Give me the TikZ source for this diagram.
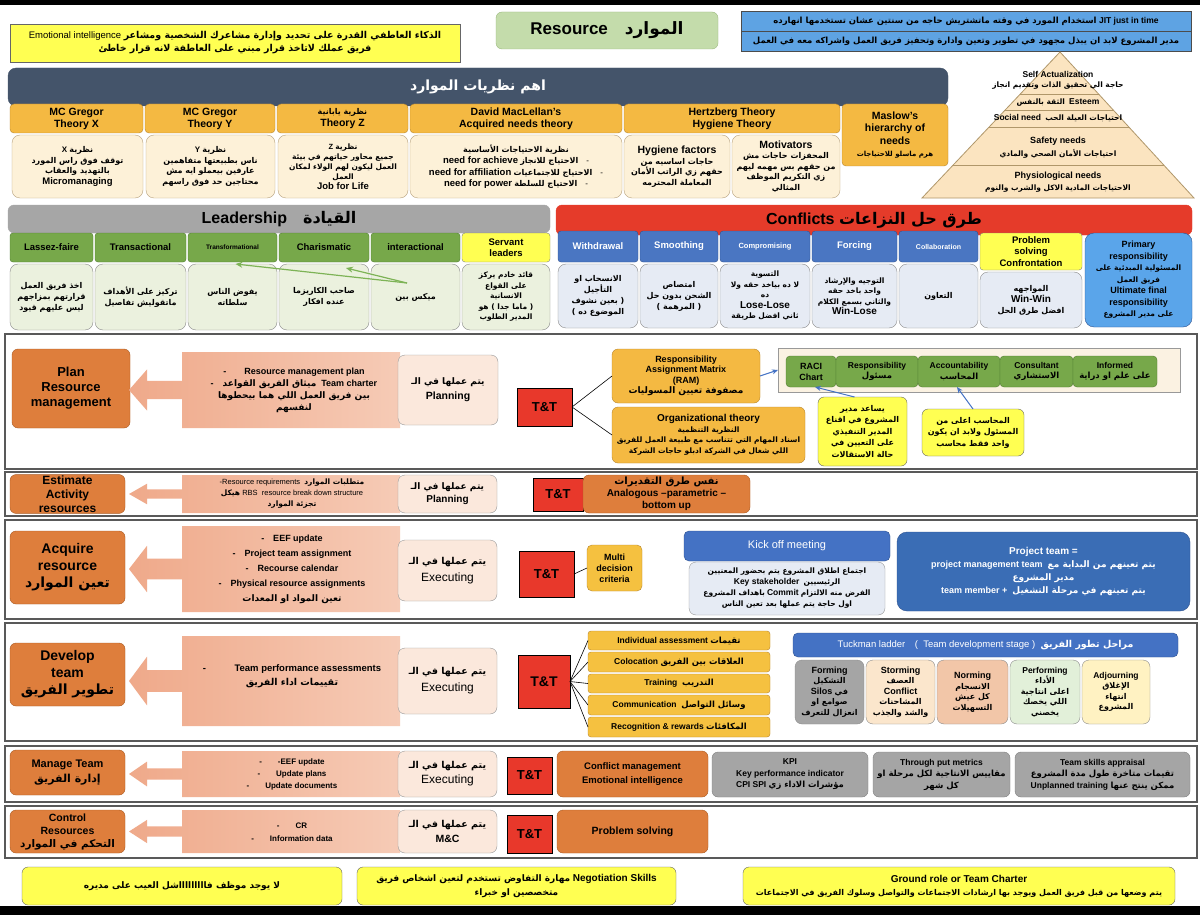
\documentclass[tikz,border=0pt]{standalone}
\usepackage{fontspec}
\setmainfont{Liberation Sans}
\newfontfamily\arabicfont[Script=Arabic]{DejaVu Sans}
\TeXXeTstate=1
\usetikzlibrary{calc,arrows.meta}
\newcommand\fs[2]{\fontsize{#1}{#2}\selectfont}
\newcommand\AR[1]{{\arabicfont\bfseries\beginR #1\endR}}
\newcommand\RL[1]{{\beginR #1\endR}}
\newcommand\A[1]{{\arabicfont\bfseries #1}}
\newcommand\EN[1]{{\beginL #1\endL}}
\definecolor{yel}{HTML}{FFFF52}
\definecolor{jit}{HTML}{5EA3E3}
\definecolor{resg}{HTML}{C4DCAB}
\definecolor{resgd}{HTML}{9CB97F}
\definecolor{slate}{HTML}{44546A}
\definecolor{gold}{HTML}{F4B942}
\definecolor{goldd}{HTML}{B8862E}
\definecolor{crm}{HTML}{FDF1D8}
\definecolor{crmd}{HTML}{B8A27E}
\definecolor{pyr}{HTML}{FBE4C0}
\definecolor{pyrd}{HTML}{B0976A}
\definecolor{lgray}{HTML}{A6A6A6}
\definecolor{grh}{HTML}{77A84A}
\definecolor{grhd}{HTML}{4F7A30}
\definecolor{grc}{HTML}{EBF1DE}
\definecolor{redh}{HTML}{E53B2A}
\definecolor{cb}{HTML}{4A76C2}
\definecolor{cbd}{HTML}{2F528F}
\definecolor{cbl}{HTML}{E6EBF4}
\definecolor{prim}{HTML}{5AA5EA}
\definecolor{org}{HTML}{DE7E3C}
\definecolor{orgd}{HTML}{A95A22}
\definecolor{peachd}{HTML}{EFA98A}
\definecolor{peachl}{HTML}{F6CBB6}
\definecolor{exe}{HTML}{FBE8DC}
\definecolor{ttred}{HTML}{E8382B}
\definecolor{multi}{HTML}{F5C140}
\definecolor{kick}{HTML}{4472C4}
\definecolor{ptb}{HTML}{3A6DB5}
\definecolor{gy}{HTML}{A5A5A5}
\definecolor{storm}{HTML}{FBE6CC}
\definecolor{norm}{HTML}{F2C6A8}
\definecolor{perf}{HTML}{E2F0D9}
\definecolor{adj}{HTML}{FFF2C2}
\definecolor{racib}{HTML}{FBF2E2}
\definecolor{arrb}{HTML}{4472C4}
\definecolor{arrg}{HTML}{7DB356}
\newcommand\bx[7]{\node[#1,minimum width={(#5-#3)*1pt},minimum height={(#6-#4)*1pt}] (#2) at ({(#3+#5)/2},{(#4+#6)/2}) {#7};}
\newcommand\callout[2]{%
 \pgfmathsetmacro\clm{(#1+#2)/2}\pgfmathsetmacro\clh{#2-#1}%
 \shade[left color=peachd,right color=peachl] (182,#1) -- (400,#1) -- (400,#2) -- (182,#2) -- (182,{\clm+0.12*\clh}) -- (147,{\clm+0.12*\clh}) -- (147,{\clm+0.27*\clh}) -- (129,\clm) -- (147,{\clm-0.27*\clh}) -- (147,{\clm-0.12*\clh}) -- (182,{\clm-0.12*\clh}) -- cycle;}
\tikzset{
 b/.style={inner sep=1pt,outer sep=0pt,align=center,font=\fs{9}{11}},
 yelbox/.style={b,fill=yel,draw=black!60,line width=0.6pt},
 blu/.style={b,fill=jit,draw=black!70,line width=0.6pt,font=\bfseries\fs{8.5}{10}},
 resbox/.style={b,fill=resg,draw=resgd,rounded corners=6pt,font=\bfseries\fs{17}{20}},
 slatebox/.style={b,fill=slate,draw=slate,rounded corners=8pt,text=white,font=\fs{14}{16}},
 goldh/.style={b,fill=gold,draw=goldd,rounded corners=4pt,font=\bfseries\fs{10.5}{12}},
 crmbox/.style={b,fill=crm,draw=crmd,rounded corners=8pt,font=\fs{8}{10.5}},
 lgh/.style={b,fill=lgray,draw=lgray,rounded corners=6pt,font=\bfseries\fs{16}{18}},
 grhbox/.style={b,fill=grh,draw=grhd,rounded corners=3pt,font=\bfseries\fs{9.5}{11}},
 grcbox/.style={b,fill=grc,draw=black!45,rounded corners=8pt,font=\fs{8}{11}},
 redbox/.style={b,fill=redh,draw=redh,rounded corners=6pt,font=\bfseries\fs{16}{18}},
 cbh/.style={b,fill=cb,draw=cbd,rounded corners=3pt,text=white,font=\bfseries\fs{9.5}{11}},
 cbc/.style={b,fill=cbl,draw=black!45,rounded corners=8pt,font=\fs{8}{11}},
 secbox/.style={draw=black!65,line width=1.5pt},
 orgbox/.style={b,fill=org,draw=orgd,rounded corners=6pt,font=\bfseries\fs{13}{15}},
 exebox/.style={b,fill=exe,draw=black!40,rounded corners=7pt,font=\fs{9}{15}},
 ttbox/.style={b,fill=ttred,draw=black,line width=0.7pt,font=\bfseries\fs{13}{15}},
 ramb/.style={b,fill=gold,draw=goldd,rounded corners=6pt,font=\fs{9}{10.5}},
 rg/.style={b,fill=grh,draw=grhd,rounded corners=4pt,font=\fs{8.5}{10.5}},
 note/.style={b,fill=yel,draw=black!60,rounded corners=6pt,font=\fs{8}{11.5}},
 mlt/.style={b,fill=multi,draw=goldd,rounded corners=5pt,font=\bfseries\fs{9}{11}},
 khb/.style={b,fill=kick,draw=cbd,rounded corners=5pt,text=white,font=\fs{11}{13}},
 kbb/.style={b,fill=cbl,draw=black!40,rounded corners=7pt,font=\fs{7.5}{11}},
 ptbox/.style={b,fill=ptb,draw=cbd,rounded corners=10pt,text=white,font=\fs{9}{13}},
 glb/.style={b,fill=multi,draw=goldd,rounded corners=3pt,font=\fs{8.5}{10}},
 tk/.style={b,draw=black!45,rounded corners=7pt,font=\fs{8}{10.5}},
 gyb/.style={b,fill=gy,draw=black!50,rounded corners=6pt,font=\fs{8.5}{11.5}},
 cot/.style={b,font=\bfseries\fs{9}{12}},
 ln/.style={black,line width=0.6pt},
 barr/.style={arrb,line width=1pt,-{Stealth[length=6pt,width=5pt]}},
 garr/.style={arrg,line width=1.2pt,-{Stealth[length=7pt,width=6pt]}}
}
\begin{document}
\begin{tikzpicture}[x=1pt,y=-1pt]
\useasboundingbox (0,0) rectangle (1200,915);
\fill[white] (0,0) rectangle (1200,915);
\fill[black] (0,0) rectangle (1200,5);
\fill[black] (0,906) rectangle (1200,915);
% ---------- top
\bx{yelbox,font=\fs{9.5}{13}}{ei}{10}{24}{460}{62}{\RL{\A{الذكاء العاطفي القدرة على تحديد وإدارة مشاعرك الشخصية ومشاعر} \EN{Emotional intelligence}}\\\AR{فريق عملك لاتاخذ قرار مبني على العاطفة لانه قرار خاطئ}}
\bx{resbox}{res}{496}{12}{718}{49}{Resource\quad\AR{الموارد}}
\bx{blu}{jit}{741}{11}{1191}{31}{\RL{\EN{JIT just in time} \A{استخدام المورد في وقته ماتشتريش حاجه من سنتين عشان تستخدمها انهارده}}}
\bx{blu}{pm}{741}{31}{1191}{51}{\AR{مدير المشروع لابد ان يبذل مجهود في تطوير وتعين وادارة وتحفيز فريق العمل واشراكه معه في العمل}}
% ---------- theories
\bx{slatebox}{th}{8}{68}{948}{106}{\AR{اهم نظريات الموارد}}
\bx{goldh}{g1}{10}{104}{143}{133}{MC Gregor\\Theory X}
\bx{goldh}{g2}{145}{104}{275}{133}{MC Gregor\\Theory Y}
\bx{goldh}{g3}{277}{104}{408}{133}{{\mdseries\fs{8}{10}\AR{نظرية يابانية}}\\Theory Z}
\bx{goldh}{g4}{410}{104}{622}{133}{David MacLellan's\\Acquired needs theory}
\bx{goldh}{g5}{624}{104}{840}{133}{Hertzberg Theory\\Hygiene Theory}
\bx{goldh,font=\bfseries\fs{10.5}{12.5}}{g6}{842}{104}{948}{166}{Maslow's\\hierarchy of\\needs\\{\mdseries\fs{7}{9}\AR{هرم ماسلو للاحتياجات}}}
\bx{crmbox}{c1}{12}{135}{143}{198}{\RL{\A{نظرية} \EN{\textbf{X}}}\\\AR{توقف فوق راس المورد}\\\AR{بالتهديد والعقاب}\\\textbf{\fs{9.5}{10.5}Micromanaging}}
\bx{crmbox}{c2}{146}{135}{275}{198}{\RL{\A{نظرية} \EN{\textbf{Y}}}\\\AR{ناس بطبيعتها متفاهمين}\\\AR{عارفين بيعملو ايه مش}\\\AR{محتاجين حد فوق راسهم}}
\bx{crmbox,font=\fs{7.5}{10}}{c3}{278}{135}{408}{198}{\RL{\A{نظرية} \EN{\textbf{Z}}}\\\AR{جميع محاور حياتهم في بيئة}\\\AR{العمل ليكون لهم الولاء لمكان}\\\AR{العمل}\\\textbf{\fs{9.5}{10}Job for Life}}
\bx{crmbox,font=\fs{8}{11.5}}{c4}{410}{135}{622}{198}{\AR{نظرية الاحتياجات الأساسية}\\\RL{-\quad\A{الاحتياج للانجاز} \EN{\textbf{\fs{9.5}{11.5}need for achieve}}}\\\RL{-\quad\A{الاحتياج للاجتماعيات} \EN{\textbf{\fs{9.5}{11.5}need for affiliation}}}\\\RL{-\quad\A{الاحتياج للسلطة} \EN{\textbf{\fs{9.5}{11.5}need for power}}}}
\bx{crmbox}{c5}{624}{135}{730}{198}{\textbf{\fs{10.5}{12}Hygiene factors}\\\AR{حاجات اساسيه من}\\\AR{حقهم زي الراتب الأمان}\\\AR{المعاملة المحترمه}}
\bx{crmbox}{c6}{732}{135}{840}{198}{\textbf{\fs{10.5}{11}Motivators}\\\AR{المحفزات حاجات مش}\\\AR{من حقهم بس مهمه ليهم}\\\AR{زي التكريم الموظف}\\\AR{المثالي}}
% ---------- pyramid
\filldraw[fill=pyr,draw=pyrd,line width=0.8pt] (1060,52) -- (1194,198) -- (922,198) -- cycle;
\begin{scope}
\clip (1060,52) -- (1194,198) -- (922,198) -- cycle;
\foreach \yy in {94,110,127,165} \draw[pyrd,line width=0.8pt] (900,\yy) -- (1200,\yy);
\end{scope}
\node[b,font=\bfseries\fs{8.5}{10}] (p1) at (1058,74) {Self Actualization};
\node[b,font=\fs{7.5}{10}] (p2) at (1058,86) {\AR{حاجة الي تحقيق الذات وتقديم انجاز}};
\node[b,font=\fs{7.5}{10}] (p3) at (1058,102) {\RL{\EN{\textbf{\fs{8.5}{10}Esteem}}\ \ \A{الثقة بالنفس}}};
\node[b,font=\fs{7.5}{10}] (p4) at (1058,118) {\RL{\A{احتياجات العيلة الحب}\ \ \EN{\textbf{\fs{8.5}{10}Social need}}}};
\node[b,font=\bfseries\fs{9}{10}] (p5) at (1058,141) {Safety needs};
\node[b,font=\fs{7.5}{10}] (p6) at (1058,154) {\AR{احتياجات الأمان الصحي والمادي}};
\node[b,font=\bfseries\fs{9}{10}] (p7) at (1058,176) {Physiological needs};
\node[b,font=\fs{7.5}{10}] (p8) at (1058,189) {\AR{الاحتياجات المادية الاكل والشرب والنوم}};
% ---------- leadership
\bx{lgh}{lead}{8}{205}{550}{233}{Leadership\quad\AR{القيادة}}
\bx{grhbox}{lh1}{10}{233}{93}{262}{Lassez-faire}
\bx{grhbox}{lh2}{95}{233}{186}{262}{Transactional}
\bx{grhbox,font=\bfseries\fs{6.5}{8}}{lh3}{188}{233}{277}{262}{Transformational}
\bx{grhbox}{lh4}{279}{233}{369}{262}{Charismatic}
\bx{grhbox}{lh5}{371}{233}{460}{262}{interactional}
\bx{grhbox,fill=yel,draw=black!50}{lh6}{462}{233}{550}{262}{Servant\\leaders}
\bx{grcbox}{lc1}{10}{264}{93}{330}{\AR{اخذ فريق العمل}\\\AR{قرارتهم بمزاجهم}\\\AR{ليس عليهم قيود}}
\bx{grcbox}{lc2}{95}{264}{186}{330}{\AR{تركيز على الأهداف}\\\AR{ماتقوليش تفاصيل}}
\bx{grcbox}{lc3}{188}{264}{277}{330}{\AR{يفوض الناس}\\\AR{سلطاته}}
\bx{grcbox}{lc4}{279}{264}{369}{330}{\AR{صاحب الكاريزما}\\\AR{عنده افكار}}
\bx{grcbox}{lc5}{371}{264}{460}{330}{\AR{ميكس بين}}
\bx{grcbox,font=\fs{7.5}{10.5}}{lc6}{462}{264}{550}{330}{\AR{قائد خادم يركز}\\\AR{على القواع}\\\AR{الانسانية}\\\AR{( ماما جدا ) هو}\\\AR{المدير الطلوب}}
\coordinate (mx) at (407,283);
\draw[garr] (mx) -- ($(lc4.north)+(22,4)$);
\draw[garr] (mx) -- ($(lc3.north)+(3,0)$);
% ---------- conflicts
\bx{redbox}{conf}{556}{205}{1192}{235}{\RL{\A{طرق حل النزاعات} \EN{Conflicts}}}
\bx{cbh}{ch1}{558}{231}{638}{262}{Withdrawal}
\bx{cbh}{ch2}{640}{231}{718}{262}{Smoothing}
\bx{cbh,font=\bfseries\fs{7.5}{9}}{ch3}{720}{231}{810}{262}{Compromising}
\bx{cbh}{ch4}{812}{231}{897}{262}{Forcing}
\bx{cbh,font=\bfseries\fs{7}{9}}{ch5}{899}{231}{978}{262}{Collaboration}
\bx{cbh,fill=yel,draw=black!50,text=black,font=\bfseries\fs{9.5}{11.5}}{ch6}{980}{233}{1082}{270}{Problem\\solving\\Confrontation}
\bx{cbh,fill=prim,draw=cbd,text=black,rounded corners=9pt,font=\bfseries\fs{9}{11.5}}{ch7}{1085}{233}{1192}{327}{Primary\\responsibility\\{\mdseries\fs{7.5}{10}\AR{المسئولية المبدئية على}}\\{\mdseries\fs{7.5}{10}\AR{فريق العمل}}\\Ultimate final\\responsibility\\{\mdseries\fs{7.5}{10}\AR{على مدير المشروع}}}
\bx{cbc}{cc1}{558}{264}{638}{328}{\AR{الانسحاب او}\\\AR{التأجيل}\\\AR{( بعين نشوف}\\\AR{الموضوع ده )}}
\bx{cbc}{cc2}{640}{264}{718}{328}{\AR{امتصاص}\\\AR{الشحن بدون حل}\\\AR{( المرهمة )}}
\bx{cbc,font=\fs{7.5}{10.5}}{cc3}{720}{264}{810}{328}{\AR{التسوية}\\\AR{لا ده بياخد حقه ولا}\\\AR{ده}\\\textbf{\fs{10}{11}Lose-Lose}\\\AR{ثاني افضل طريقة}}
\bx{cbc,font=\fs{7.5}{10.5}}{cc4}{812}{264}{897}{328}{\AR{التوجيه والإرشاد}\\\AR{واحد باخد حقه}\\\AR{والثاني بسمع الكلام}\\\textbf{\fs{10}{11}Win-Lose}}
\bx{cbc}{cc5}{899}{264}{978}{328}{\AR{التعاون}}
\bx{cbc}{cc6}{980}{272}{1082}{328}{\AR{المواجهه}\\\textbf{\fs{10}{12}Win-Win}\\\AR{افضل طرق الحل}}
% ---------- sections
\draw[secbox] (5,334) rectangle (1197,469);
\draw[secbox] (5,472) rectangle (1197,516);
\draw[secbox] (5,520) rectangle (1197,619);
\draw[secbox] (5,623) rectangle (1197,741);
\draw[secbox] (5,746) rectangle (1197,802);
\draw[secbox] (5,806) rectangle (1197,858);
% ---------- plan
\bx{orgbox}{o1}{12}{349}{130}{428}{Plan\\Resource\\management}
\callout{352}{428}
\node[cot] (q1) at (294,390) {-\qquad Resource management plan\\-\quad\RL{\EN{Team charter}\ \ \A{ميثاق الفريق القواعد}}\\\AR{بين فريق العمل اللي هما بيحطوها}\\\AR{لنفسهم}};
\bx{exebox}{e1}{398}{355}{498}{425}{\AR{يتم عملها في الـ}\\\textbf{\fs{10.5}{12}Planning}}
\bx{ttbox}{t1}{517}{388}{572}{426}{T\&T}
\bx{ramb}{ram}{612}{349}{760}{403}{\textbf{Responsibility}\\\textbf{Assignment Matrix}\\\textbf{(RAM)}\\\AR{مصفوفة تعيين المسوليات}}
\bx{ramb,font=\fs{7.5}{10.5}}{orgt}{612}{407}{805}{463}{\textbf{\fs{10}{11}Organizational theory}\\\AR{النظرية التنظمية}\\\AR{اسناد المهام التي تتناسب مع طبيعة العمل للفريق}\\\AR{اللي شغال في الشركة ادبلو حاجات الشركة}}
\draw[ln] (t1.east) -- (ram.west);
\draw[ln] (t1.east) -- (orgt.west);
\bx{b,fill=racib,draw=black!40}{raci}{778}{348}{1180}{392}{}
\bx{rg,font=\bfseries\fs{9}{11}}{r1}{786}{356}{836}{387}{RACI\\Chart}
\bx{rg}{r2}{836}{356}{918}{387}{\textbf{Responsibility}\\\AR{مسئول}}
\bx{rg}{r3}{918}{356}{1000}{387}{\textbf{Accountability}\\\AR{المحاسب}}
\bx{rg}{r4}{1000}{356}{1073}{387}{\textbf{Consultant}\\\AR{الاستشاري}}
\bx{rg}{r5}{1073}{356}{1157}{387}{\textbf{Informed}\\\AR{على علم او دراية}}
\draw[barr] (ram.east) -- (raci.west);
\bx{note}{n1}{818}{397}{907}{466}{\AR{يساعد مدير}\\\AR{المشروع في اقناع}\\\AR{المدير التنفيذي}\\\AR{على التعيين في}\\\AR{حالة الاستقالات}}
\bx{note}{n2}{922}{409}{1024}{456}{\AR{المحاسب اعلى من}\\\AR{المسئول ولابد ان يكون}\\\AR{واحد فقط محاسب}}
\draw[barr] ($(n1.north)+(-8,0)$) -- ($(r1.south)+(4,0)$);
\draw[barr] ($(n2.north)+(0,0)$) -- ($(r3.south)+(-2,0)$);
% ---------- estimate
\bx{orgbox,font=\bfseries\fs{12}{14}}{o2}{10}{475}{125}{513}{Estimate\\Activity\\resources}
\callout{475}{513}
\node[cot,font=\fs{7.5}{11}] (q2) at (292,494) {\RL{\A{متطلبات الموارد}\ \ \EN{-Resource requirements}}\\\RL{\EN{RBS\ \ resource break down structure}\ \A{هيكل}}\\\AR{تجزئة الموارد}};
\bx{exebox,font=\fs{9}{13}}{e2}{398}{475}{497}{513}{\AR{يتم عملها في الـ}\\\textbf{\fs{10}{12}Planning}}
\bx{ttbox}{t2}{533}{478}{583}{511}{T\&T}
\bx{orgbox,font=\bfseries\fs{10}{12}}{o2b}{583}{475}{750}{513}{{\mdseries\AR{نفس طرق التقديرات}}\\Analogous –parametric –\\bottom up}
% ---------- acquire
\bx{orgbox,font=\bfseries\fs{14}{17}}{o3}{10}{531}{125}{604}{Acquire\\resource\\\AR{تعين الموارد}}
\callout{526}{612}
\node[cot,font=\bfseries\fs{9}{15}] (q3) at (292,569) {-\quad EEF update\\-\quad Project team assignment\\-\quad Recourse calendar\\-\quad Physical resource assignments\\\AR{تعين المواد او المعدات}};
\bx{exebox,font=\fs{9.5}{17}}{e3}{398}{540}{497}{601}{\AR{يتم عملها في الـ}\\\fs{12}{13}Executing}
\bx{ttbox}{t3}{519}{551}{574}{597}{T\&T}
\bx{mlt}{mlt}{587}{545}{642}{591}{Multi\\decision\\criteria}
\draw[ln] (t3.east) -- (mlt.west);
\bx{khb}{kh}{684}{531}{890}{561}{Kick off meeting}
\bx{kbb}{kb}{689}{562}{885}{615}{\AR{اجتماع اطلاق المشروع يتم بحضور المعنيين}\\\RL{\A{الرئيسيين}\ \ \EN{\textbf{\fs{8.5}{11}Key stakeholder}}}\\\RL{\A{الفرض منه الالتزام}\ \EN{\textbf{\fs{8.5}{11}Commit}}\ \A{باهداف المشروع}}\\\AR{اول حاجة يتم عملها بعد تعين الناس}}
\bx{ptbox}{pt}{897}{532}{1190}{611}{\textbf{\fs{10}{13}Project team =}\\\RL{\A{يتم تعينهم من البداية مع}\ \ \EN{\textbf{project management team}}}\\\AR{مدير المشروع}\\\RL{\A{يتم تعينهم في مرحلة التشغيل}\ \ \EN{\textbf{team member +}}}}
% ---------- develop
\bx{orgbox,font=\bfseries\fs{14}{17}}{o4}{10}{643}{125}{706}{Develop\\team\\\AR{تطوير الفريق}}
\callout{636}{726}
\node[cot,font=\bfseries\fs{9.5}{14}] (q4) at (292,676) {-\qquad\quad Team performance assessments\\\AR{تقييمات اداء الفريق}};
\bx{exebox,font=\fs{9.5}{17}}{e4}{398}{648}{497}{714}{\AR{يتم عملها في الـ}\\\fs{12}{13}Executing}
\bx{ttbox,font=\bfseries\fs{14}{16}}{t4}{518}{655}{570}{708}{T\&T}
\bx{glb}{d1}{588}{631}{770}{650}{\RL{\A{تقيمات}\ \EN{\textbf{Individual assessment}}}}
\bx{glb}{d2}{588}{652}{770}{672}{\RL{\A{العلاقات بين الفريق}\ \EN{\textbf{Colocation}}}}
\bx{glb}{d3}{588}{674}{770}{693}{\RL{\A{التدريب}\ \ \EN{\textbf{Training}}}}
\bx{glb}{d4}{588}{695}{770}{715}{\RL{\A{وسائل التواصل}\ \ \EN{\textbf{Communication}}}}
\bx{glb}{d5}{588}{717}{770}{737}{\RL{\A{المكافئات}\ \EN{\textbf{Recognition \& rewards}}}}
\foreach \n in {d1,d2,d3,d4,d5} \draw[ln] (t4.east) -- (\n.west);
\bx{khb,font=\fs{9.5}{11}}{tkh}{793}{633}{1178}{657}{\RL{\A{مراحل تطور الفريق}\ \ \EN{(\ \ Team development stage )}\quad\EN{Tuckman ladder}}}
\bx{tk,fill=gy}{k1}{795}{660}{864}{724}{\textbf{\fs{9}{11}Forming}\\\AR{التشكيل}\\\RL{\A{في} \EN{\textbf{\fs{9}{10.5}Silos}}}\\\AR{صوامع او}\\\AR{انعزال للتعرف}}
\bx{tk,fill=storm}{k2}{866}{660}{935}{724}{\textbf{\fs{9}{11}Storming}\\\AR{العصف}\\\textbf{\fs{9}{10.5}Conflict}\\\AR{المشاحنات}\\\AR{والشد والجذب}}
\bx{tk,fill=norm}{k3}{937}{660}{1008}{724}{\textbf{\fs{9}{11}Norming}\\\AR{الانسجام}\\\AR{كل عيش}\\\AR{التسهيلات}}
\bx{tk,fill=perf}{k4}{1010}{660}{1080}{724}{\textbf{\fs{8.5}{11}Performing}\\\AR{الأداء}\\\AR{اعلى انتاجية}\\\AR{اللي يخصك}\\\AR{يخصني}}
\bx{tk,fill=adj}{k5}{1082}{660}{1150}{724}{\textbf{\fs{8.5}{11}Adjourning}\\\AR{الإغلاق}\\\AR{انتهاء}\\\AR{المشروع}}
% ---------- manage
\bx{orgbox,font=\bfseries\fs{11}{15}}{o5}{10}{750}{125}{795}{Manage Team\\\AR{إدارة الفريق}}
\callout{751}{797}
\node[cot,font=\bfseries\fs{8}{12}] (q5) at (292,774) {-\qquad -EEF update\\-\qquad Update plans\\-\qquad Update documents};
\bx{exebox,font=\fs{9.5}{15}}{e5}{398}{751}{497}{797}{\AR{يتم عملها في الـ}\\\fs{12}{13}Executing}
\bx{ttbox}{t5}{507}{757}{552}{794}{T\&T}
\bx{orgbox,font=\bfseries\fs{9.5}{14}}{o5b}{557}{751}{708}{797}{Conflict management\\Emotional intelligence}
\bx{gyb}{kpi}{712}{752}{868}{797}{\textbf{KPI}\\\textbf{Key performance indicator}\\\RL{\A{مؤشرات الاداء زي}\ \EN{\textbf{CPI SPI}}}}
\bx{gyb}{tpm}{873}{752}{1010}{797}{\textbf{Through put metrics}\\\AR{مقاييس الانتاجية لكل مرحلة او}\\\AR{كل شهر}}
\bx{gyb}{tsa}{1015}{752}{1190}{797}{\textbf{Team skills appraisal}\\\AR{تقيمات متاخرة طول مدة المشروع}\\\RL{\A{ممكن ينتج عنها}\ \EN{\textbf{Unplanned training}}}}
% ---------- control
\bx{orgbox,font=\bfseries\fs{10.5}{13}}{o6}{10}{810}{125}{853}{Control\\Resources\\\AR{التحكم في الموارد}}
\callout{810}{853}
\node[cot,font=\bfseries\fs{8}{13}] (q6) at (292,832) {-\qquad CR\\-\qquad Information data};
\bx{exebox,font=\fs{9.5}{15}}{e6}{398}{810}{497}{853}{\AR{يتم عملها في الـ}\\\textbf{\fs{10.5}{13}M\&C}}
\bx{ttbox}{t6}{507}{815}{552}{853}{T\&T}
\bx{orgbox,font=\bfseries\fs{10.5}{13}}{o6b}{557}{810}{708}{853}{Problem solving}
% ---------- bottom notes
\bx{note,font=\fs{9}{12}}{b1}{22}{867}{342}{905}{\AR{لا يوجد موظف فاااااااااشل العيب على مديره}}
\bx{note,font=\fs{9}{14}}{b2}{357}{867}{676}{905}{\RL{\EN{\textbf{\fs{10}{14}Negotiation Skills}}\ \A{مهارة التفاوض تستخدم لتعين اشخاص فريق}}\\\AR{متخصصين او خبراء}}
\bx{note,font=\fs{8}{13}}{b3}{743}{867}{1175}{905}{\textbf{\fs{10}{13}Ground role or Team Charter}\\\AR{يتم وضعها من قبل فريق العمل ويوجد بها ارشادات الاجتماعات والتواصل وسلوك الفريق في الاجتماعات}}
\end{tikzpicture}
\end{document}
